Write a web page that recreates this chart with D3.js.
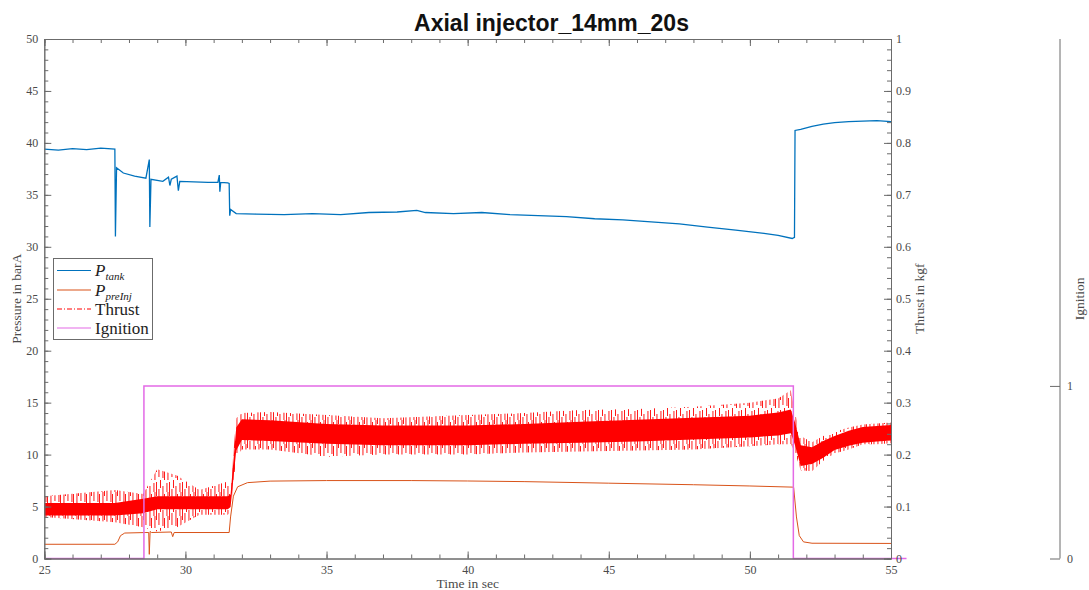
<!DOCTYPE html>
<html>
<head>
<meta charset="utf-8">
<script src="https://cdn.jsdelivr.net/npm/d3@7"></script>
<style>
  body { margin: 0; background: #fff; }
  text { font-family: "Liberation Serif", "DejaVu Serif", serif; }
</style>
</head>
<body>
<div id="chart"></div>
<script>
var W = 1089, H = 590;
var margin = {top: 39, left: 44.3, right: 891, bottom: 558.5};

// P_tank (barA)
var ptankTime = [25, 25.5, 26, 26.5, 27, 27.5, 27.52, 27.56, 27.8, 28.2, 28.6, 28.72, 28.74, 28.78, 29.2, 29.4, 29.45, 29.5, 29.7, 29.75, 29.8, 30.3, 30.8, 31.15, 31.2, 31.22, 31.25, 31.5, 31.55, 31.57, 31.6, 31.8, 32.5, 33.5, 34.5, 35.5, 36.5, 37.5, 38.2, 38.5, 39.5, 40.5, 41.5, 42.5, 43.5, 44.5, 45.5, 46.5, 47.5, 48.5, 49.5, 50.5, 51, 51.5, 51.58, 51.6, 51.8, 52.2, 52.6, 53, 53.5, 54, 54.5, 55];
var ptankVal  = [39.4, 39.3, 39.45, 39.35, 39.5, 39.4, 31.0, 37.6, 37.1, 36.8, 36.6, 38.4, 31.9, 36.5, 36.3, 36.7, 35.9, 36.5, 36.8, 35.4, 36.3, 36.25, 36.2, 36.2, 36.9, 35.3, 36.2, 36.15, 36.1, 33.0, 33.6, 33.2, 33.15, 33.1, 33.2, 33.1, 33.3, 33.35, 33.5, 33.3, 33.2, 33.3, 33.1, 33.0, 32.9, 32.7, 32.6, 32.4, 32.2, 31.9, 31.6, 31.3, 31.1, 30.8, 30.9, 41.2, 41.3, 41.6, 41.8, 41.95, 42.05, 42.1, 42.15, 42.05];

// P_preInj (barA)
var preTime = [25, 27.5, 27.6, 27.7, 27.85, 28.6, 28.7, 28.72, 28.75, 28.8, 29.5, 29.55, 29.6, 31.55, 31.6, 31.7, 31.85, 32.2, 33, 35, 38, 40, 42, 45, 48, 50, 51.5, 51.55, 51.65, 51.75, 51.9, 52.2, 55];
var preVal  = [1.37, 1.37, 1.6, 2.2, 2.45, 2.5, 2.5, 0.4, 2.6, 2.5, 2.55, 2.1, 2.5, 2.5, 4.0, 6.0, 6.9, 7.3, 7.45, 7.5, 7.5, 7.46, 7.4, 7.25, 7.1, 6.98, 6.87, 6.85, 4.0, 2.2, 1.6, 1.47, 1.45];

// Thrust (kgf): dense noisy trace, read as core band and spike envelope
var thrustTime   = [25, 27.5, 28.5, 29, 29.7, 30.5, 31.5, 31.6, 31.8, 32, 33, 35, 37, 40, 42, 44, 46, 48, 50, 51, 51.45, 51.6, 51.8, 52.2, 52.6, 53, 53.5, 54, 54.5, 55];
var thrustCoreLo = [.083, .083, .087, .095, .095, .095, .095, .099, .208, .228, .226, .221, .218, .218, .221, .223, .225, .229, .233, .237, .241, .218, .178, .182, .194, .209, .217, .223, .225, .227];
var thrustCoreHi = [.107, .107, .115, .120, .120, .120, .120, .123, .252, .268, .266, .259, .256, .256, .259, .263, .267, .271, .275, .281, .287, .262, .218, .214, .226, .236, .246, .253, .255, .257];
var thrustSpikeLo = [.080, .070, .060, .052, .060, .084, .084, .090, .196, .210, .210, .196, .200, .200, .204, .206, .208, .210, .216, .220, .220, .204, .170, .168, .188, .202, .210, .220, .220, .222];
var thrustSpikeHi = [.120, .132, .124, .172, .160, .132, .148, .136, .270, .280, .282, .276, .270, .276, .280, .286, .288, .292, .300, .308, .324, .280, .236, .224, .236, .244, .252, .258, .260, .262];

// Ignition flag
var ignTime = [25, 28.53, 28.53, 51.54, 51.54, 55.55];
var ignVal  = [0, 0, 1, 1, 0, 0];

var xTicks = [25, 30, 35, 40, 45, 50, 55];
var pTicks = [0, 5, 10, 15, 20, 25, 30, 35, 40, 45, 50];
var tTicks = [0, 0.1, 0.2, 0.3, 0.4, 0.5, 0.6, 0.7, 0.8, 0.9, 1];
var ignTicks = [0, 1];

var svg = d3.select("#chart").append("svg")
    .attr("width", W)
    .attr("height", H);

var x = d3.scaleLinear().domain([25, 55]).range([margin.left, margin.right]);
var yP = d3.scaleLinear().domain([0, 50]).range([margin.bottom, margin.top]);
var yT = d3.scaleLinear().domain([0, 1]).range([margin.bottom, margin.top]);
var yI = d3.scaleLinear().domain([0, 3.01]).range([margin.bottom, margin.top]);

var axisCol = "#6b6b6b", labCol = "#4a4a4a";

// spike texture for the noisy thrust envelope
var defs = svg.append("defs");
var pat = defs.append("pattern")
    .attr("id", "spikes")
    .attr("patternUnits", "userSpaceOnUse")
    .attr("width", 13).attr("height", 24);
[[0, 2, 14], [2.5, 9, 12], [4, 0, 8], [6.5, 6, 16], [8, 14, 10], [10.5, 3, 9], [11.5, 12, 12]].forEach(function(s) {
  pat.append("rect")
      .attr("x", s[0]).attr("y", s[1]).attr("width", 0.9).attr("height", s[2])
      .attr("fill", "#ff0000");
});

defs.append("clipPath").attr("id", "plotclip")
  .append("rect")
    .attr("x", margin.left).attr("y", margin.top)
    .attr("width", margin.right - margin.left).attr("height", margin.bottom - margin.top);

var plot = svg.append("g").attr("clip-path", "url(#plotclip)");

// thrust
var tIdx = d3.range(thrustTime.length);
plot.append("path")
    .datum(tIdx)
    .attr("d", d3.area()
        .x(function(i){ return x(thrustTime[i]); })
        .y0(function(i){ return yT(thrustSpikeLo[i]); })
        .y1(function(i){ return yT(thrustSpikeHi[i]); }))
    .attr("fill", "url(#spikes)");
plot.append("path")
    .datum(tIdx)
    .attr("d", d3.area()
        .x(function(i){ return x(thrustTime[i]); })
        .y0(function(i){ return yT(thrustCoreLo[i]); })
        .y1(function(i){ return yT(thrustCoreHi[i]); }))
    .attr("fill", "#ff0000");

// preInj
plot.append("path")
    .datum(d3.range(preTime.length))
    .attr("d", d3.line()
        .x(function(i){ return x(preTime[i]); })
        .y(function(i){ return yP(preVal[i]); }))
    .attr("fill", "none")
    .attr("stroke", "#D95319")
    .attr("stroke-width", 1);

// tank
plot.append("path")
    .datum(d3.range(ptankTime.length))
    .attr("d", d3.line()
        .x(function(i){ return x(ptankTime[i]); })
        .y(function(i){ return yP(ptankVal[i]); }))
    .attr("fill", "none")
    .attr("stroke", "#0072BD")
    .attr("stroke-width", 1.3);

// ignition (not clipped, runs a bit past the box)
svg.append("path")
    .datum(d3.range(ignTime.length))
    .attr("d", d3.line()
        .x(function(i){ return x(ignTime[i]); })
        .y(function(i){ return yI(ignVal[i]); }))
    .attr("fill", "none")
    .attr("stroke", "#e36ae6")
    .attr("stroke-width", 1.5);

// axes
function styleAxis(g) {
  g.selectAll(".domain").attr("stroke", axisCol);
  g.selectAll(".tick line").attr("stroke", axisCol);
  g.selectAll(".tick text").attr("fill", labCol)
      .style("font-family", "'Liberation Serif', serif").style("font-size", "12px");
}
function minor(lo, hi, step) {
  return d3.range(lo, hi + step / 2, step);
}

// x bottom
svg.append("g").attr("transform", "translate(0," + margin.bottom + ")")
    .call(d3.axisBottom(x).tickValues(minor(25, 55, 1)).tickSize(-4).tickFormat(""))
    .call(styleAxis);
svg.append("g").attr("transform", "translate(0," + margin.bottom + ")")
    .call(d3.axisBottom(x).tickValues(xTicks).tickSize(-7).tickPadding(7).tickFormat(d3.format("d")))
    .call(styleAxis);
// x top
svg.append("g").attr("transform", "translate(0," + margin.top + ")")
    .call(d3.axisTop(x).tickValues(minor(25, 55, 1)).tickSize(-4).tickFormat(""))
    .call(styleAxis);
svg.append("g").attr("transform", "translate(0," + margin.top + ")")
    .call(d3.axisTop(x).tickValues(xTicks).tickSize(-7).tickFormat(""))
    .call(styleAxis);

// left pressure
svg.append("g").attr("transform", "translate(" + margin.left + ",0)")
    .call(d3.axisLeft(yP).tickValues(minor(0, 50, 1)).tickSize(-4).tickFormat(""))
    .call(styleAxis);
svg.append("g").attr("transform", "translate(" + margin.left + ",0)")
    .call(d3.axisLeft(yP).tickValues(pTicks).tickSize(-7).tickPadding(6).tickFormat(d3.format("d")))
    .call(styleAxis);

// right thrust
svg.append("g").attr("transform", "translate(" + margin.right + ",0)")
    .call(d3.axisRight(yT).tickValues(minor(0, 1, 0.02)).tickSize(-4).tickFormat(""))
    .call(styleAxis);
svg.append("g").attr("transform", "translate(" + margin.right + ",0)")
    .call(d3.axisRight(yT).tickValues(tTicks).tickSize(-7).tickPadding(5).tickFormat(function(d){ return d3.format("")(+d.toFixed(1)); }))
    .call(styleAxis);

// ignition axis
var ig = svg.append("g").attr("transform", "translate(1060,0)")
    .call(d3.axisLeft(yI).tickValues(ignTicks).tickSize(10).tickFormat(d3.format("d")))
    .call(styleAxis);
ig.selectAll(".domain").attr("d", "M0," + margin.top + "V" + margin.bottom);
ig.selectAll(".tick text").attr("x", 7).attr("text-anchor", "start");

// titles
svg.append("text")
    .attr("x", 551.5).attr("y", 30.5)
    .attr("text-anchor", "middle")
    .style("font-family", "'Liberation Sans', Arial, sans-serif")
    .style("font-weight", "bold").style("font-size", "23px")
    .attr("fill", "#111")
    .text("Axial injector_14mm_20s");

svg.append("text")
    .attr("x", (margin.left + margin.right) / 2).attr("y", 588)
    .attr("text-anchor", "middle").attr("fill", labCol)
    .style("font-size", "13.5px")
    .text("Time in sec");

svg.append("text")
    .attr("transform", "translate(20.5," + ((margin.top + margin.bottom) / 2) + ") rotate(-90)")
    .attr("text-anchor", "middle").attr("fill", labCol)
    .style("font-size", "13.5px")
    .text("Pressure in barA");

svg.append("text")
    .attr("transform", "translate(924," + ((margin.top + margin.bottom) / 2) + ") rotate(-90)")
    .attr("text-anchor", "middle").attr("fill", labCol)
    .style("font-size", "13.5px")
    .text("Thrust in kgf");

svg.append("text")
    .attr("transform", "translate(1084," + ((margin.top + margin.bottom) / 2) + ") rotate(-90)")
    .attr("text-anchor", "middle").attr("fill", labCol)
    .style("font-size", "13.5px")
    .text("Ignition");

// legend
var legend = svg.append("g");
legend.append("rect")
    .attr("x", 53.5).attr("y", 258.5).attr("width", 99).attr("height", 81)
    .attr("fill", "#fff").attr("stroke", "#6b6b6b").attr("stroke-width", 1);

var legItems = [
  {main: "P", sub: "tank", col: "#0072BD", dash: null, italic: true},
  {main: "P", sub: "preInj", col: "#D95319", dash: null, italic: true},
  {main: "Thrust", sub: null, col: "#ff0000", dash: "5,2,1,2", italic: false},
  {main: "Ignition", sub: null, col: "#e36ae6", dash: null, italic: false}
];
var legY = [270.5, 290, 309, 328];
legItems.forEach(function(d, i) {
  legend.append("line")
      .attr("x1", 57).attr("x2", 91).attr("y1", legY[i]).attr("y2", legY[i])
      .attr("stroke", d.col).attr("stroke-width", 1.2)
      .attr("stroke-dasharray", d.dash);
  var t = legend.append("text")
      .attr("x", 95).attr("y", legY[i] + 5.5)
      .attr("fill", "#222")
      .style("font-size", "17px");
  t.append("tspan").style("font-style", d.italic ? "italic" : "normal").text(d.main);
  if (d.sub) {
    t.append("tspan").attr("dy", 4).style("font-style", "italic").style("font-size", "11px").text(d.sub);
  }
});
</script>
</body>
</html>
